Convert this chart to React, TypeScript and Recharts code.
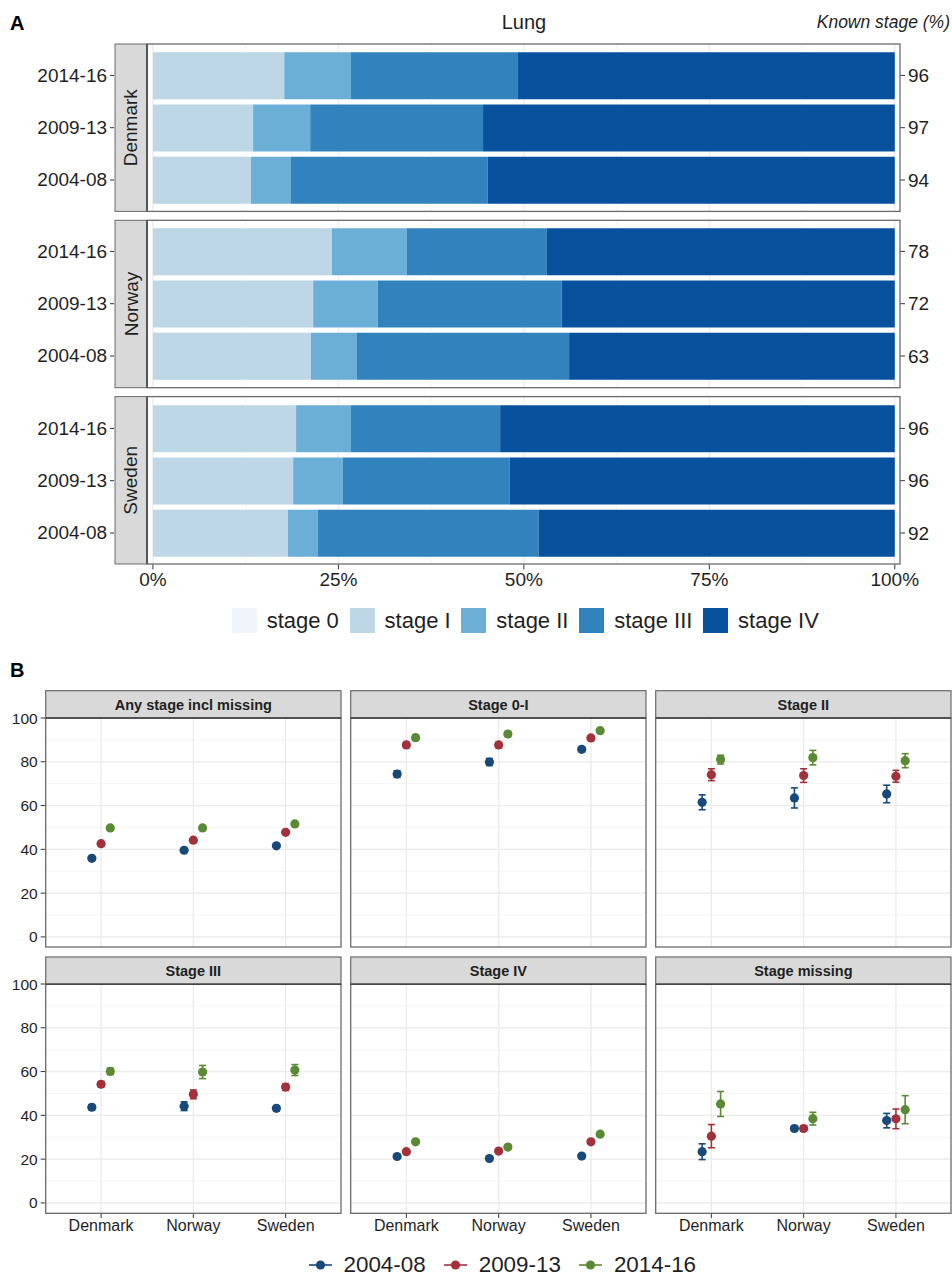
import React from "react";
import {
  BarChart,
  Bar,
  XAxis,
  YAxis,
  CartesianGrid,
  ScatterChart,
  Scatter,
  ErrorBar,
} from "recharts";

const FONT = "'Liberation Sans', Arial, Helvetica, sans-serif";

// ---- Panel A: stage distribution (% of known stage) ----
const periodsA = ["2014-16", "2009-13", "2004-08"]; // top to bottom
const countries = ["Denmark", "Norway", "Sweden"];
const stages = ["stage 0", "stage I", "stage II", "stage III", "stage IV"];
const stageColors = ["#F0F4FB", "#BDD7E7", "#6BAED6", "#3182BD", "#08519C"];

// rows follow periodsA, columns follow stages
const denmarkStages = [
  [0, 17.7, 9.0, 22.5, 50.8],
  [0, 13.5, 7.7, 23.3, 55.5],
  [0, 13.2, 5.4, 26.5, 54.9],
];
const norwayStages = [
  [0, 24.1, 10.1, 18.9, 46.9],
  [0, 21.6, 8.7, 24.8, 44.9],
  [0, 21.3, 6.2, 28.6, 43.9],
];
const swedenStages = [
  [0, 19.3, 7.4, 20.1, 53.2],
  [0, 18.9, 6.7, 22.5, 51.9],
  [0, 18.2, 4.0, 29.8, 48.0],
];
const denmarkKnown = [96, 97, 94];
const norwayKnown = [78, 72, 63];
const swedenKnown = [96, 96, 92];
const pctTicks = [0, 25, 50, 75, 100];
const pctGrid = [0, 12.5, 25, 37.5, 50, 62.5, 75, 87.5, 100];

// ---- Panel B: survival by stage ----
const periodsB = ["2004-08", "2009-13", "2014-16"];
const periodColors = ["#17497A", "#A3313B", "#5B8A35"];
const facetTitles = [
  "Any stage incl missing",
  "Stage 0-I",
  "Stage II",
  "Stage III",
  "Stage IV",
  "Stage missing",
];
// rows follow periodsB, columns follow countries
const anyStageSurv = [[35.9, 39.6, 41.6], [42.6, 44.2, 47.8], [49.8, 49.8, 51.6]];
const anyStageCi = [[0.8, 0.9, 0.6], [0.8, 0.9, 0.6], [0.9, 1.0, 0.7]];
const stage0ISurv = [[74.4, 79.9, 85.7], [87.7, 87.7, 90.9], [91.0, 92.7, 94.2]];
const stage0ICi = [[1.5, 1.6, 1.0], [1.2, 1.2, 0.8], [1.2, 1.1, 0.7]];
const stage2Surv = [[61.5, 63.5, 65.3], [74.1, 73.7, 73.4], [81.0, 81.9, 80.5]];
const stage2Ci = [[3.4, 4.6, 4.0], [2.7, 3.1, 2.7], [2.0, 3.3, 3.2]];
const stage3Surv = [[43.7, 44.2, 43.2], [54.2, 49.6, 52.9], [60.1, 59.8, 60.7]];
const stage3Ci = [[1.2, 2.0, 1.2], [1.2, 2.0, 1.5], [1.5, 3.0, 2.5]];
const stage4Surv = [[21.2, 20.3, 21.4], [23.4, 23.7, 27.9], [27.9, 25.5, 31.4]];
const stage4Ci = [[0.6, 0.8, 0.6], [0.7, 0.8, 0.7], [0.8, 0.9, 0.8]];
const missingSurv = [[23.4, 34.0, 37.6], [30.5, 34.0, 38.4], [45.2, 38.5, 42.6]];
const missingCi = [[3.6, 1.0, 3.3], [5.3, 1.2, 4.5], [5.7, 2.9, 6.4]];
const survTicks = [0, 20, 40, 60, 80, 100];
const survGrid = [0, 10, 20, 30, 40, 50, 60, 70, 80, 90, 100];
const dodge = [-0.1, 0, 0.1];

const facetSurv = [anyStageSurv, stage0ISurv, stage2Surv, stage3Surv, stage4Surv, missingSurv];
const facetCi = [anyStageCi, stage0ICi, stage2Ci, stage3Ci, stage4Ci, missingCi];

// layout
const A_LEFT = 147;
const A_RIGHT = 900;
const A_TOPS = [44, 220.3, 396.6];
const A_H = 167.4;
const B_COLS = [45.7, 350.7, 655.7];
const B_W = 295.3;
const B_STRIP_TOPS = [690.7, 957];
const B_STRIP_H = 27.3;
const B_H = 229;
const B_PAD = 12; // room so the top tick label is not clipped
const BORDER = "#6a6a6a";
const TEXT = "#1f1f1f";

const YearTick = (props: any) => {
  const { x, y, payload } = props;
  return (
    <g>
      <line x1={x - 37} x2={x - 33} y1={y} y2={y} stroke="#333" strokeWidth={1} />
      <text x={x - 40} y={y} textAnchor="end" dominantBaseline="central" fontSize={19} fill={TEXT} fontFamily={FONT}>
        {payload.value}
      </text>
    </g>
  );
};

function StageChart({ rows, known, top, showAxis }: { rows: number[][]; known: number[]; top: number; showAxis: boolean }) {
  const data = periodsA.map((p, i) => {
    const row: any = { period: p };
    stages.forEach((s, k) => (row[s] = rows[i][k]));
    return row;
  });
  const h = A_H + (showAxis ? 32 : 0);
  return (
    <div style={{ position: "absolute", left: 0, top }}>
      <BarChart width={952} height={h} data={data} layout="vertical" margin={{ top: 0, right: 0, bottom: 0, left: 0 }}>
        <CartesianGrid horizontal={false} verticalValues={pctGrid} stroke="#EEEEEE" strokeWidth={0.6} />
        <CartesianGrid horizontal={false} verticalValues={pctTicks} stroke="#EBEBEB" strokeWidth={1.1} />
        <XAxis
          type="number"
          domain={[-0.8, 100.7]}
          allowDataOverflow
          ticks={pctTicks}
          tickFormatter={(v) => v + "%"}
          hide={!showAxis}
          height={32}
          axisLine={false}
          tickSize={5}
          tickMargin={3}
          tickLine={{ stroke: "#333" }}
          tick={{ fontSize: 19, fill: TEXT, fontFamily: FONT }}
        />
        <YAxis
          yAxisId="left"
          type="category"
          dataKey="period"
          width={A_LEFT}
          padding={{ top: 5.25, bottom: 5.25 }}
          axisLine={false}
          tickLine={false}
          tickSize={0}
          tickMargin={0}
          tick={<YearTick />}
        />
        <YAxis
          yAxisId="right"
          orientation="right"
          type="category"
          dataKey="period"
          width={952 - A_RIGHT}
          padding={{ top: 5.25, bottom: 5.25 }}
          axisLine={false}
          tickSize={5}
          tickMargin={3}
          tickLine={{ stroke: "#333" }}
          tickFormatter={(v) => String(known[periodsA.indexOf(v)])}
          tick={{ fontSize: 19, fill: TEXT, fontFamily: FONT, textAnchor: "start" }}
        />
        {stages.map((s, k) => (
          <Bar key={s} yAxisId="left" dataKey={s} stackId="a" fill={stageColors[k]} barSize={47} isAnimationActive={false} />
        ))}
      </BarChart>
    </div>
  );
}

function SurvChart({ idx }: { idx: number }) {
  const col = idx % 3;
  const row = Math.floor(idx / 3);
  const showY = col === 0;
  const showX = row === 1;
  const yW = 45.7;
  const width = B_W + (showY ? yW : 0);
  const height = B_PAD + B_H + (showX ? 30 : 0);
  const left = showY ? B_COLS[0] - yW : B_COLS[col];
  const top = B_STRIP_TOPS[row] + B_STRIP_H - B_PAD;
  return (
    <div style={{ position: "absolute", left, top }}>
      <ScatterChart width={width} height={height} margin={{ top: B_PAD, right: 0, bottom: 0, left: 0 }}>
        <CartesianGrid vertical={false} horizontalValues={survGrid} stroke="#F0F0F0" strokeWidth={0.7} />
        <CartesianGrid verticalValues={[1, 2, 3]} horizontalValues={survTicks} stroke="#EBEBEB" strokeWidth={1.3} />
        <XAxis
          type="number"
          dataKey="x"
          domain={[0.4, 3.6]}
          allowDataOverflow
          ticks={[1, 2, 3]}
          tickFormatter={(v) => countries[Math.round(v) - 1]}
          hide={!showX}
          height={30}
          axisLine={false}
          tickSize={5}
          tickMargin={2}
          tickLine={{ stroke: "#333" }}
          tick={{ fontSize: 16, fill: TEXT, fontFamily: FONT }}
        />
        <YAxis
          type="number"
          dataKey="y"
          domain={[-4.6, 100]}
          allowDataOverflow
          ticks={survTicks}
          interval={0}
          hide={!showY}
          width={yW}
          axisLine={false}
          tickSize={5}
          tickMargin={3}
          tickLine={{ stroke: "#333" }}
          tick={{ fontSize: 15.5, fill: TEXT, fontFamily: FONT }}
        />
        {periodsB.map((p, i) => {
          const data = countries.map((c, j) => ({
            x: j + 1 + dodge[i],
            y: facetSurv[idx][i][j],
            err: facetCi[idx][i][j],
          }));
          const color = periodColors[i];
          return (
            <Scatter
              key={p}
              name={p}
              data={data}
              fill={color}
              isAnimationActive={false}
              shape={(s: any) => <circle cx={s.cx} cy={s.cy} r={4.6} fill={color} />}
            >
              <ErrorBar dataKey="err" direction="y" width={3.5} stroke={color} strokeWidth={1.6} isAnimationActive={false} />
            </Scatter>
          );
        })}
      </ScatterChart>
    </div>
  );
}

function Overlay() {
  const stageRows = [denmarkStages, norwayStages, swedenStages];
  return (
    <svg width={952} height={1275} style={{ position: "absolute", left: 0, top: 0, pointerEvents: "none" }} fontFamily={FONT}>
      <text x={10} y={23} fontSize={20} fontWeight="bold" fill="#000" dominantBaseline="central">A</text>
      <text x={524} y={22} fontSize={20} fill={TEXT} textAnchor="middle" dominantBaseline="central">Lung</text>
      <text x={950} y={22} fontSize={17.5} fontStyle="italic" fill={TEXT} textAnchor="end" dominantBaseline="central">
        Known stage (%)
      </text>
      {stageRows.map((_, i) => (
        <g key={countries[i]}>
          <rect x={115} y={A_TOPS[i]} width={A_LEFT - 115} height={A_H} fill="#D9D9D9" stroke={BORDER} strokeWidth={1} />
          <line x1={A_LEFT} x2={A_LEFT} y1={A_TOPS[i]} y2={A_TOPS[i] + A_H} stroke="#333" strokeWidth={2} />
          <rect x={A_LEFT} y={A_TOPS[i]} width={A_RIGHT - A_LEFT} height={A_H} fill="none" stroke={BORDER} strokeWidth={1.3} />
          <text
            x={131}
            y={A_TOPS[i] + A_H / 2}
            fontSize={19}
            fill={TEXT}
            textAnchor="middle"
            dominantBaseline="central"
            transform={`rotate(-90 131 ${A_TOPS[i] + A_H / 2})`}
          >
            {countries[i]}
          </text>
        </g>
      ))}
      <text x={10} y={670} fontSize={20} fontWeight="bold" fill="#000" dominantBaseline="central">B</text>
      {facetTitles.map((t, idx) => {
        const col = idx % 3;
        const row = Math.floor(idx / 3);
        const x = B_COLS[col];
        const sy = B_STRIP_TOPS[row];
        return (
          <g key={t}>
            <rect x={x} y={sy} width={B_W} height={B_STRIP_H} fill="#D9D9D9" stroke={BORDER} strokeWidth={1.2} />
            <rect x={x} y={sy + B_STRIP_H} width={B_W} height={B_H} fill="none" stroke={BORDER} strokeWidth={1.3} />
            <line x1={x} x2={x + B_W} y1={sy + B_STRIP_H} y2={sy + B_STRIP_H} stroke="#444" strokeWidth={1.6} />
            <text x={x + B_W / 2} y={sy + B_STRIP_H / 2 + 0.5} fontSize={14.5} fontWeight="bold" fill={TEXT} textAnchor="middle" dominantBaseline="central">
              {t}
            </text>
          </g>
        );
      })}
    </svg>
  );
}

function StageLegend() {
  return (
    <div style={{ position: "absolute", left: 231.7, top: 608, display: "flex", alignItems: "center", height: 25, fontFamily: FONT }}>
      {stages.map((s, k) => (
        <div key={s} style={{ display: "flex", alignItems: "center" }}>
          <span style={{ display: "inline-block", width: 25, height: 25, background: stageColors[k] }} />
          <span style={{ marginLeft: 10, marginRight: 10.7, fontSize: 22, color: TEXT, lineHeight: "25px" }}>{s}</span>
        </div>
      ))}
    </div>
  );
}

function PeriodLegend() {
  return (
    <div style={{ position: "absolute", left: 309, top: 1252, display: "flex", alignItems: "center", height: 26, fontFamily: FONT }}>
      {periodsB.map((p, i) => (
        <div key={p} style={{ display: "flex", alignItems: "center" }}>
          <svg width={23} height={26}>
            <line x1={0} x2={23} y1={13} y2={13} stroke={periodColors[i]} strokeWidth={1.6} />
            <circle cx={11.5} cy={13} r={4.6} fill={periodColors[i]} />
          </svg>
          <span style={{ marginLeft: 11.5, marginRight: 18.5, fontSize: 22.4, color: TEXT, lineHeight: "26px" }}>{p}</span>
        </div>
      ))}
    </div>
  );
}

export default function App() {
  return (
    <div style={{ position: "absolute", left: 0, top: 0, width: 952, height: 1275, background: "#fff", fontFamily: FONT }}>
      <StageChart rows={denmarkStages} known={denmarkKnown} top={A_TOPS[0]} showAxis={false} />
      <StageChart rows={norwayStages} known={norwayKnown} top={A_TOPS[1]} showAxis={false} />
      <StageChart rows={swedenStages} known={swedenKnown} top={A_TOPS[2]} showAxis={true} />
      <StageLegend />
      {facetTitles.map((t, idx) => (
        <SurvChart key={t} idx={idx} />
      ))}
      <Overlay />
      <PeriodLegend />
    </div>
  );
}
